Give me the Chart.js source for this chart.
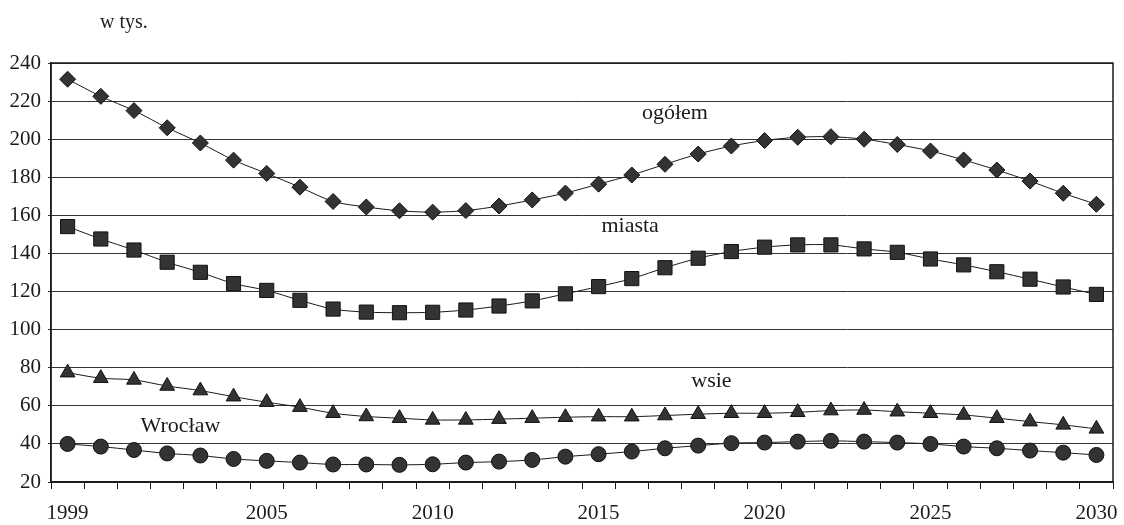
<!DOCTYPE html>
<html>
<head>
<meta charset="utf-8">
<script src="https://cdn.jsdelivr.net/npm/chart.js@4/dist/chart.umd.min.js"></script>
<style>
  html, body { margin: 0; padding: 0; background: #fff; }
  #wrap { position: relative; width: 1124px; height: 525px; }
  #unit { position: absolute; left: 100px; top: 10px; font: 20px 'Liberation Serif', serif; color: #222; }
</style>
</head>
<body>
<div id="wrap">
  <div id="unit">w tys.</div>
  <canvas id="chart" width="1124" height="525"></canvas>
</div>
<script>
// Ludność (w tys.), prognoza 1999-2030
const years = [];
for (let y = 1999; y <= 2030; y++) years.push(String(y));
const shownYears = ['1999', '2005', '2010', '2015', '2020', '2025', '2030'];

const ogolem = [231.5, 222.5, 215, 206, 198, 189, 182, 174.8, 167.3, 164.4,
                162.4, 161.7, 162.5, 164.9, 168.1, 171.7, 176.4, 181.2, 186.8, 192.2,
                196.4, 199.3, 201, 201.3, 200, 197.2, 193.8, 189.1, 183.8, 178,
                171.6, 165.8];
const miasta = [154.1, 147.6, 141.8, 135.4, 130.1, 124.2, 120.6, 115.4, 110.8, 109.2,
                108.9, 109.1, 110.3, 112.4, 115.1, 118.8, 122.6, 126.8, 132.5, 137.5,
                141, 143.3, 144.5, 144.5, 142.4, 140.6, 137.1, 134, 130.4, 126.5,
                122.4, 118.5];
const wsie   = [77.4, 74.5, 73.6, 70.4, 68, 64.8, 61.9, 59.3, 56.1, 54.4,
                53.5, 52.6, 52.6, 53, 53.5, 54, 54.3, 54.3, 54.9, 55.6,
                56.1, 56.1, 56.6, 57.5, 57.8, 56.9, 56.1, 55.2, 53.5, 51.7,
                50, 47.9];
const wroclaw = [40, 38.6, 36.8, 35, 33.9, 32.1, 31.1, 30.2, 29.2, 29.2,
                 29, 29.3, 30.2, 30.7, 31.6, 33.3, 34.6, 36, 37.7, 39.1,
                 40.4, 40.7, 41.2, 41.6, 41.2, 40.7, 40, 38.6, 37.7, 36.5,
                 35.4, 34.2];

const serif = "'Liberation Serif', 'Times New Roman', serif";
const ink = '#1a1a1a';
const markFill = '#333';

// series name labels placed inside the plot (category index, value)
const seriesNotes = [
  { text: 'ogółem',  x: 18.3, y: 213.5 },
  { text: 'miasta',  x: 16.95, y: 154.5 },
  { text: 'wsie',    x: 19.4, y: 73 },
  { text: 'Wrocław', x: 3.4,  y: 49.5 }
];

const frameAndNotes = {
  id: 'frameAndNotes',
  afterDraw(chart) {
    const { ctx, chartArea: a, scales: { x, y } } = chart;
    ctx.save();
    ctx.strokeStyle = ink;
    ctx.lineWidth = 1.5;
    ctx.strokeRect(a.left, a.top, a.right - a.left, a.bottom - a.top);
    ctx.fillStyle = ink;
    ctx.font = '22px ' + serif;
    ctx.textAlign = 'center';
    ctx.textBaseline = 'middle';
    seriesNotes.forEach(n => {
      const px = x.getPixelForValue(0) + n.x * (x.getPixelForValue(1) - x.getPixelForValue(0));
      ctx.fillText(n.text, px, y.getPixelForValue(n.y));
    });
    ctx.restore();
  }
};

function series(label, data, style, radius) {
  return {
    label, data,
    borderColor: ink,
    borderWidth: 1,
    tension: 0.3,
    pointStyle: style,
    pointRadius: radius,
    pointBackgroundColor: markFill,
    pointBorderColor: '#111',
    pointBorderWidth: 1
  };
}

new Chart(document.getElementById('chart'), {
  type: 'line',
  data: {
    labels: years,
    datasets: [
      series('ogółem', ogolem, 'rectRot', 8),
      series('miasta', miasta, 'rect', 10),
      series('wsie', wsie, 'triangle', 8.5),
      series('Wrocław', wroclaw, 'circle', 7.5)
    ]
  },
  options: {
    responsive: false,
    animation: false,
    layout: { padding: { top: 63, right: -6, left: 0, bottom: 0 } },
    plugins: { legend: { display: false }, tooltip: { enabled: false } },
    scales: {
      x: {
        type: 'category',
        offset: true,
        grid: { offset: true, drawOnChartArea: false, drawTicks: true, tickLength: 7, color: ink },
        border: { color: ink, width: 1.5 },
        ticks: {
          autoSkip: false, maxRotation: 0, padding: 12,
          color: ink, font: { family: serif, size: 21 },
          callback(v, i) { return shownYears.includes(years[i]) ? years[i] : ''; }
        },
        afterFit(s) { s.height = 43; s.paddingLeft = 0; s.paddingRight = 0; }
      },
      y: {
        min: 20, max: 240,
        ticks: { stepSize: 20, padding: 7, color: ink, font: { family: serif, size: 21 } },
        grid: { color: '#333', lineWidth: 1, drawTicks: true, tickLength: 3 },
        border: { color: ink, width: 1.5 },
        afterFit(s) { s.width = 51; }
      }
    }
  },
  plugins: [frameAndNotes]
});
</script>
</body>
</html>
